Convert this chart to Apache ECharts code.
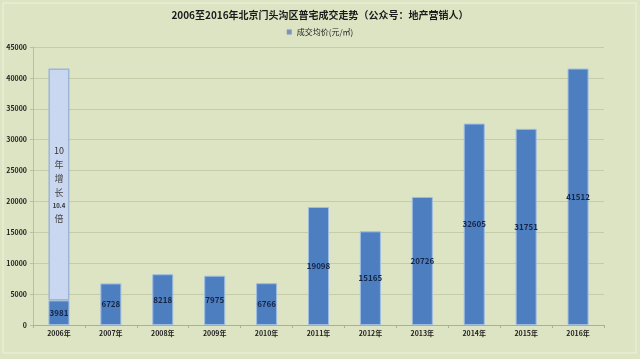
<!DOCTYPE html>
<html><head><meta charset="utf-8">
<script src="https://cdn.jsdelivr.net/npm/echarts@6/dist/echarts.min.js"></script>
<style>html,body{margin:0;padding:0;background:#dde4c4}#c{width:640px;height:359px}</style>
</head><body><div id="c"></div>
<script>
const years = ['2006年','2007年','2008年','2009年','2010年','2011年','2012年','2013年','2014年','2015年','2016年'];
const prices = [3981,6728,8218,7975,6766,19098,15165,20726,32605,31751,41512];
const growthOverlay = [37531,null,null,null,null,null,null,null,null,null,null];
const growthText = ['10','年','增','长','10.4','倍'];
const yTicks = [0,5000,10000,15000,20000,25000,30000,35000,40000,45000];

const chart = echarts.init(document.getElementById('c'));
const ff = '"Noto Sans CJK SC","Noto Sans",sans-serif';
chart.setOption({
  backgroundColor:'#dde4c4',
  animation:false,
  graphic:[{type:'rect',shape:{x:3,y:3,width:633,height:350},style:{fill:'none',stroke:'#eef2dc',lineWidth:1},silent:true}],
  title:{text:'2006至2016年北京门头沟区普宅成交走势（公众号：地产营销人）',left:'center',top:5,
    textStyle:{fontSize:10,fontWeight:'bold',color:'#1a1a1a',fontFamily:ff}},
  legend:{data:['成交均价(元/㎡)'],top:23,left:'center',itemWidth:5,itemHeight:5,itemGap:4,
    itemStyle:{color:'#7e93b8',borderWidth:0},
    textStyle:{fontSize:8,color:'#222',fontFamily:ff},icon:'rect'},
  grid:{left:33,right:36,top:47,bottom:34},
  xAxis:{type:'category',data:years,
    axisLine:{lineStyle:{color:'#a9b095',width:1}},
    axisTick:{show:true,length:3,lineStyle:{color:'#a9b095'}},
    axisLabel:{fontSize:7,color:'#222',fontWeight:'bold',margin:5,fontFamily:ff}},
  yAxis:{type:'value',min:yTicks[0],max:yTicks[yTicks.length-1],interval:5000,
    axisLine:{show:true,lineStyle:{color:'#b8c0a0'}},
    axisTick:{show:true,length:3,lineStyle:{color:'#b8c0a0'}},
    splitLine:{lineStyle:{color:'#c4cda7',width:1}},
    axisLabel:{fontSize:7,color:'#222',fontWeight:'bold',margin:6,fontFamily:ff,formatter:v=>String(v)}},
  series:[
    {name:'成交均价(元/㎡)',type:'bar',stack:'s',data:prices,barWidth:21,
      itemStyle:{color:'#4d7fc0',borderColor:'#9ebce2',borderWidth:1},
      label:{show:true,position:'inside',fontSize:8,fontWeight:'bold',color:'#152545',fontFamily:ff}},
    {name:'增长',type:'bar',stack:'s',data:growthOverlay,barWidth:21,
      itemStyle:{color:'#c9d8f0',borderColor:'#9db6da',borderWidth:1.5},
      label:{show:true,position:'inside',fontFamily:ff,
        formatter:()=>growthText.map((t,i)=> (i===0||i===4)? '{n'+(i===4?'s':'')+'|'+t+'}' : '{c|'+t+'}').join('\n'),
        rich:{n:{fontSize:9,color:'#333',lineHeight:14},ns:{fontSize:6,color:'#333',lineHeight:12,fontWeight:'bold'},c:{fontSize:9,color:'#444',lineHeight:14}}}}
  ]
});
</script></body></html>
